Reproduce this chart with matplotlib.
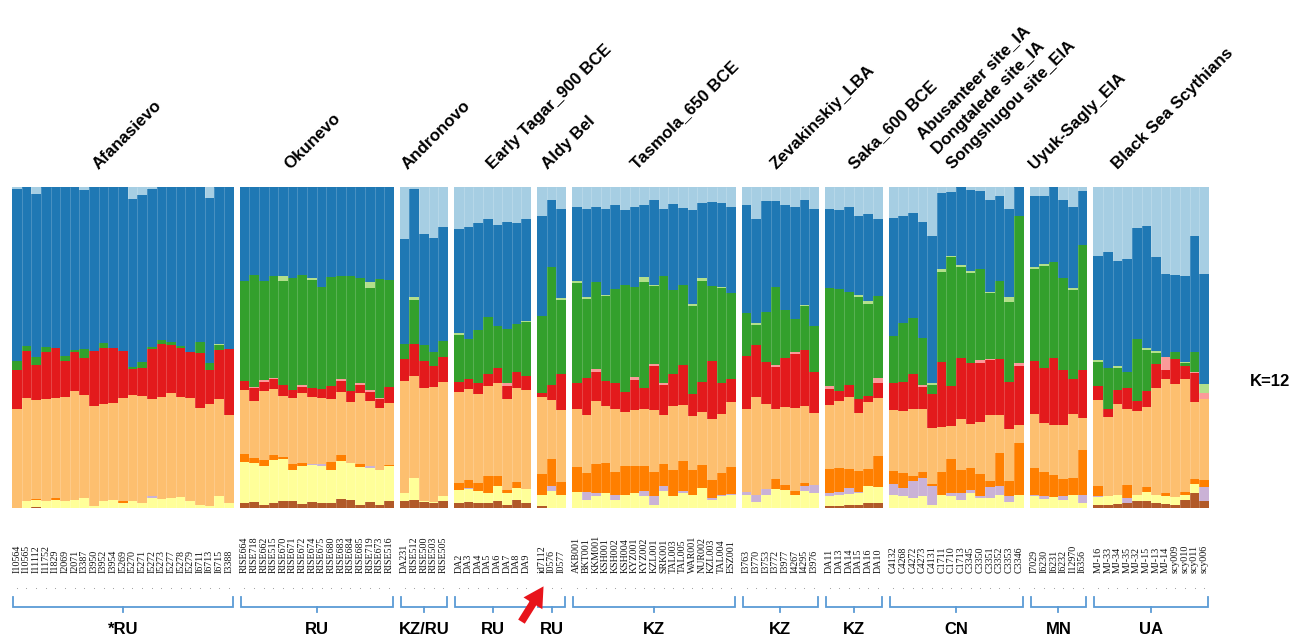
import matplotlib
matplotlib.use("Agg")
import matplotlib.pyplot as plt
import numpy as np
from matplotlib import transforms

# ---------------- data ----------------
groups = ["Afanasievo", "Okunevo", "Andronovo", "Early Tagar_900 BCE", "Aldy Bel",
          "Tasmola_650 BCE", "Zevakinskiy_LBA", "Saka_600 BCE",
          "Abusanteer site_IA\nDongtalede site_IA\nSongshugou site_EIA",
          "Uyuk-Sagly_EIA", "Black Sea Scythians"]
countries = ["*RU", "RU", "KZ/RU", "RU", "RU", "KZ", "KZ", "KZ", "CN", "MN", "UA"]

samples_afanasievo = ["I10564", "I10565", "I11112", "I11752", "I1829", "I2069", "I2071", "I3387",
                      "I3950", "I3952", "I3954", "I5269", "I5270", "I5271", "I5272", "I5273",
                      "I5277", "I5278", "I5279", "I6711", "I6713", "I6715", "I3388"]
samples_okunevo = ["RISE664", "RISE718", "RISE662", "RISE515", "RISE670", "RISE671", "RISE672",
                   "RISE674", "RISE675", "RISE680", "RISE683", "RISE684", "RISE685", "RISE719",
                   "RISE673", "RISE516"]
samples_andronovo = ["DA231", "RISE512", "RISE500", "RISE503", "RISE505"]
samples_early_tagar = ["DA2", "DA3", "DA4", "DA5", "DA6", "DA7", "DA8", "DA9"]
samples_aldy_bel = ["id7112", "I0576", "I0577"]
samples_tasmola = ["AKB001", "BKT001", "KKM001", "KSH001", "KSH002", "KSH004", "KYZ001", "KYZ002",
                   "KZL001", "SRK001", "TAL003", "TAL005", "WAR001", "NUR002", "KZL003", "TAL004",
                   "ESZ001"]
samples_zevakinskiy = ["I3763", "I3770", "I3753", "I3772", "I3977", "I4267", "I4295", "I3976"]
samples_saka = ["DA11", "DA13", "DA14", "DA15", "DA16", "DA10"]
samples_cn = ["C4132", "C4268", "C4272", "C4273", "C4131", "C1711", "C1710", "C1713", "C3345",
              "C3350", "C3351", "C3352", "C3353", "C3346"]
samples_uyuk = ["I7029", "I6230", "I6231", "I6232", "I12970", "I6356"]
samples_blacksea = ["MJ-16", "MJ-33", "MJ-34", "MJ-35", "MJ-32", "MJ-15", "MJ-13", "MJ-14",
                    "scy009", "scy010", "scy011", "scy006"]

group_samples = [samples_afanasievo, samples_okunevo, samples_andronovo, samples_early_tagar,
                 samples_aldy_bel, samples_tasmola, samples_zevakinskiy, samples_saka,
                 samples_cn, samples_uyuk, samples_blacksea]

# ancestry proportions (%), one value per sample, groups in order above
light_blue = [
    0.5, 0, 2.1, 0, 0, 0, 0, 1, 0, 0, 0, 0, 3.6, 2.6, 0.5, 0, 0, 0, 0, 0, 3.3, 0, 0,
    0, 0, 0, 0, 0, 0, 0, 0, 0, 0, 0, 0, 0, 0, 0, 0,
    16.1, 0.5, 14.6, 15.9, 12.5,
    13, 12.5, 11.3, 10.1, 11.7, 10.9, 11.3, 10.1,
    9.1, 4.2, 7,
    6.3, 7, 6.3, 6.8, 5.7, 7.3, 6.3, 5.7, 4.2, 6.8, 5.2, 6.6, 7.3, 4.9, 4.7, 4.9, 6.3,
    5.7, 9.9, 4.5, 4.5, 5.7, 6.3, 4.2, 7,
    7, 7.3, 6.3, 9.1, 8.3, 9.9,
    9.7, 9.1, 8, 10.9, 15.3, 1.8, 1.6, 0, 1, 1.4, 4.2, 2.8, 7, 0,
    2.8, 2.8, 0, 4.2, 6.3, 1.4,
    21.4, 20.1, 22.9, 22.4, 12.8, 12.2, 21.9, 27.1, 27.3, 27.6, 15.3, 27.1]
blue = [
    53.6, 49.5, 51, 50, 50, 52.6, 50.7, 49.5, 51.4, 48.6, 50.3, 51, 52.4, 52.1, 49.2, 47.7, 48.1,
    49.5, 51.4, 48.2, 51.6, 48.8, 50.5,
    29.2, 27.4, 29.5, 27.8, 27.6, 28.4, 27.6, 28.4, 31.3, 28.1, 27.6, 27.8, 28.6, 29.7, 28.6, 28.9,
    32.8, 33.9, 34.7, 35.6, 35.6,
    32.5, 34.9, 33.2, 30.3, 31.8, 33.3, 31.5, 31.6,
    31, 20.8, 27.7,
    22.9, 27.4, 23.4, 26.9, 26, 23.2, 25, 22.4, 26.4, 20.8, 26.8, 24, 29.2, 23.5, 26, 26.1, 26.6,
    33.5, 32.5, 34.6, 26.5, 32.6, 34.9, 32.6, 36.5,
    24.3, 24.5, 26.6, 24.6, 27.1, 24,
    36.7, 33.3, 32.9, 36.3, 45.8, 23.8, 19.8, 24.5, 25.3, 24.2, 28.6, 26.4, 27.4, 9.1,
    22.2, 21.1, 23.4, 24, 25.3, 16.7,
    32.5, 36.1, 32.8, 35.2, 34.6, 38.1, 29.2, 26, 24.1, 26.9, 36, 34.4]
light_green = [
    0, 0, 0, 0, 0, 0, 0, 0, 0, 0, 0, 0, 0, 0, 0, 0, 0, 0, 0, 0, 0, 0.4, 0,
    0, 0, 0, 0, 1.6, 0, 0, 0.4, 0, 0, 0, 0, 0, 1.9, 0, 0,
    0, 0.7, 0, 0, 0,
    0.5, 0, 0, 0, 0, 0, 0, 0.3,
    0, 0, 0.4,
    0.7, 0.5, 0, 0.4, 0, 0, 0, 1.4, 0.4, 0, 0, 0, 0.8, 1, 0, 0.5, 0,
    0, 0.6, 0, 0, 0, 0, 0.5, 0,
    0, 0, 0, 0.7, 1, 0,
    0, 0, 0, 0, 0.5, 0.8, 0.4, 0.4, 0.7, 0, 0.4, 0, 1.4, 0,
    0.5, 0.7, 0, 0.3, 0.5, 0,
    0.6, 0, 0.8, 0, 0, 0.6, 0.5, 0, 0, 0.4, 0, 2.6]
green = [
    2.8, 1.6, 2.4, 1.3, 0, 1.6, 0.8, 2.8, 0, 1.7, 0, 0, 0.5, 1.6, 0.8, 1.3, 1.1, 0.8, 0, 3.5, 2.1,
    1.6, 0,
    31.3, 35.1, 30.7, 31.6, 32.6, 34.8, 34.2, 33.6, 31.6, 34.1, 32.3, 35.7, 32.8, 31.7, 37, 33.3,
    4.7, 13.9, 4.9, 4.2, 5,
    14.9, 12.5, 16.7, 17.9, 12.8, 16.7, 14.9, 16.9,
    24, 36.8, 23.2,
    31.3, 24.5, 27.3, 26.4, 29.4, 33.5, 28.1, 33, 24.3, 33.5, 26.4, 25, 27.6, 31.3, 23.4, 29.6, 26.9,
    13.3, 6.1, 15.4, 24.6, 15.1, 10.4, 13.5, 14.2,
    30.7, 31.8, 29, 31.6, 28.6, 25.8,
    14.6, 18.5, 17.4, 14.6, 2.8, 28.1, 40.4, 28.4, 27.9, 28.3, 20.4, 24.5, 25.2, 45.6,
    28.6, 31.6, 29.9, 28.5, 27.8, 39,
    7.5, 13, 6.7, 5.2, 19.3, 12.8, 3.6, 0, 2.1, 1, 6.3, 0]
pink = [
    0, 0, 0, 0, 0, 0, 0, 0, 0, 0, 0, 0, 0, 0, 0, 0, 0, 0, 0, 0, 0, 0, 0,
    0, 0.3, 0.8, 0.5, 0, 0, 0.5, 0, 0, 0, 0.5, 0, 0.7, 0.6, 0.5, 0,
    0, 0, 0, 0, 0,
    0, 0, 0, 0, 0, 1, 0, 0,
    0, 0, 0,
    0, 0, 0.7, 0, 0, 0, 0.8, 0, 0.5, 0.6, 0, 0, 0, 0, 0, 0, 0,
    0, 0, 0, 0.5, 0, 0.4, 0, 0,
    0.8, 0, 0, 0, 0, 1.3,
    0, 0, 0, 0.7, 0, 0, 0, 0, 0, 1, 0.4, 0, 0, 1,
    0, 0, 0, 0, 0, 0,
    0, 0, 0, 0, 0, 0, 0, 3.9, 0, 0, 0.4, 1.9]
red = [
    12.1, 14.6, 11.1, 14.9, 15.6, 11.1, 12.1, 11.6, 17.2, 17.2, 16.9, 14.6, 8.3, 8.9, 15.6, 16.4,
    14.8, 15, 14.3, 17.2, 10.7, 15.2, 20.5,
    2.8, 3.9, 2.8, 3.1, 3.3, 2.4, 1.9, 3.1, 2.8, 3.8, 3.6, 3.4, 2.6, 2.8, 2.7, 5,
    6.8, 9.9, 8.3, 6.8, 7.6,
    3.1, 3.1, 3.4, 3.6, 4.7, 4, 4.9, 4.4,
    1.3, 4.4, 11.1,
    8.1, 11.5, 9.2, 7.8, 8.1, 6.3, 9.4, 6.8, 13.8, 9.4, 9.9, 12.5, 6.8, 9.6, 18.2, 9.7, 7.3,
    16.5, 16.1, 13.2, 13, 15, 17, 17.7, 12.9,
    4.9, 3.1, 3.9, 4.4, 1.9, 4.7,
    8.5, 8.9, 10.7, 6.9, 10.7, 20.2, 12.3, 19.1, 19, 18.5, 17, 17.5, 14.4, 18.5,
    16.7, 17.2, 20.9, 17, 10.9, 14.9,
    4.4, 2.3, 4.5, 6.5, 3.1, 4.9, 7.3, 2.7, 7.8, 4, 9, 0]
peach = [
    30.9, 32.3, 30.7, 31.8, 31.3, 32.6, 34, 32, 31.5, 30.2, 30.2, 32.1, 33, 33.3, 30.2, 31.9, 32.8,
    31.3, 32.3, 30, 31.8, 30.4, 27.4,
    20.1, 17.7, 21.4, 20.6, 19.1, 20.8, 22.1, 20.8, 20.8, 19.8, 19.6, 19.2, 22.1, 20.3, 19.2, 19.3,
    34.9, 31.8, 35.2, 35.7, 35.6,
    28.3, 28.3, 27.6, 28.1, 29, 28.3, 29.5, 30.8,
    24, 18.5, 22.5,
    17.9, 18.2, 19.8, 17.7, 19.5, 16.7, 17.5, 17.5, 19.3, 15.1, 19.8, 17.4, 16.7, 16.5, 18.8, 18.2,
    20.2,
    26, 30.5, 26.6, 21.9, 24.3, 26, 24, 22.2,
    20.1, 20.8, 22.4, 18.2, 20.8, 18.2,
    19.1, 19.3, 20.8, 19.8, 17.4, 14.2, 10.4, 15.8, 13.9, 16, 20.8, 11.9, 16.4, 5.4,
    16.7, 15.4, 15.3, 16.9, 20, 10.1,
    26.9, 24.6, 28.1, 23.8, 26, 25, 33.6, 35.6, 35.3, 35.2, 24.2, 25.4]
orange = [
    0, 0, 0.3, 0, 0.5, 0, 0, 0, 0, 0, 0, 0.7, 0, 0, 0, 0, 0, 0, 0, 0, 0, 0, 0,
    2.4, 1.6, 2.1, 1.3, 0.5, 1.8, 0.8, 0, 0, 2.3, 1.8, 0, 0.8, 0, 0, 0.5,
    0, 0, 0, 0, 0,
    2.1, 2.6, 2.6, 5.2, 3.1, 1, 1.8, 0,
    6.6, 8.3, 3.9,
    7.9, 6, 8.9, 9.4, 7.1, 8.9, 8.5, 8, 7.6, 7, 8.3, 9.4, 7.8, 7, 5.7, 6.8, 8.3,
    0, 0, 0, 3.1, 1.8, 1, 1, 0,
    7.5, 7.3, 6, 6.3, 5.4, 9.6,
    3.9, 4.7, 1.8, 1.8, 0.6, 7, 10.6, 7.3, 6.8, 7.1, 1.6, 10.2, 4.5, 16.1,
    8.3, 7.5, 7, 5.5, 5.3, 13.9,
    2.9, 0, 0, 3.9, 0, 1.7, 0, 1, 0, 1, 1.3, 2.1]
lavender = [
    0, 0, 0, 0, 0, 0, 0, 0, 0, 0, 0, 0, 0, 0, 0.5, 0, 0, 0, 0, 0, 0, 0, 0,
    0, 0, 0, 0, 0, 0, 0, 0.3, 0.5, 0, 0, 0, 0, 0.5, 0, 0,
    0, 0, 0, 0, 0,
    0, 0.3, 0, 0, 0, 0, 0, 0,
    0, 1.8, 0,
    0, 2.3, 0.8, 0, 1.8, 0, 0, 1.6, 2.8, 1.6, 0, 0.5, 0, 0, 0.7, 0.5, 0.6,
    1, 2.4, 1.6, 0, 0, 0, 1.6, 2.6,
    0.8, 1, 1.8, 0.5, 0, 0,
    3.4, 2.6, 5.2, 5.7, 5.9, 0, 0.8, 2.3, 1, 0.5, 3.6, 2.6, 2.1, 0,
    0.5, 0.8, 0, 1, 0, 2.6,
    0.4, 0, 0, 1.6, 0, 0, 0, 0, 0, 0, 0, 4.5]
yellow = [
    0, 2.1, 2.3, 2.1, 2.6, 2.1, 2.4, 3.1, 0.5, 2.3, 2.6, 1.6, 2.1, 1.6, 3.1, 2.8, 3.1, 3.4, 2.1, 1,
    0.5, 3.6, 1.6,
    12.7, 12.3, 12, 13.5, 13.2, 9.7, 11.7, 11.5, 11.5, 10.4, 11.8, 11.3, 12, 10.7, 10.9, 10.9,
    2.6, 6.8, 0.5, 0.3, 1.6,
    4, 4, 3.6, 3.1, 4.9, 3.6, 3.9, 4.4,
    3.6, 5.2, 4.2,
    4.9, 2.6, 3.9, 4.7, 2.4, 4.2, 4.7, 3.6, 1, 5.2, 3.6, 4.7, 4.2, 6.3, 2.4, 3.6, 3.9,
    3.9, 1.8, 4.2, 5.9, 5.5, 4.2, 5.2, 4.7,
    3.3, 3.4, 3.4, 3.6, 5.2, 5,
    4.2, 3.6, 3.1, 3.6, 1, 4.2, 3.9, 2.4, 4.7, 3.1, 3.1, 4.2, 1.8, 4.2,
    3.6, 2.8, 3.4, 2.6, 3.9, 1.6,
    2.4, 2.8, 2.8, 0, 2.1, 2.8, 2.3, 2.3, 2.4, 1.3, 2.9, 0]
brown = [
    0, 0, 0.3, 0, 0, 0, 0, 0, 0, 0, 0, 0, 0, 0, 0, 0, 0, 0, 0, 0, 0, 0, 0,
    1.6, 1.8, 1, 1.6, 2.1, 2.1, 1.4, 1.8, 1.6, 1.6, 2.8, 2.6, 1, 1.8, 1, 2.1,
    2.1, 2.6, 1.8, 1.6, 2.1,
    1.6, 1.8, 1.6, 1.6, 2.1, 1, 2.4, 1.6,
    0.5, 0, 0,
    0, 0, 0, 0, 0, 0, 0, 0, 0, 0, 0, 0, 0, 0, 0, 0, 0,
    0, 0, 0, 0, 0, 0, 0, 0,
    0.5, 0.7, 1, 1, 1.6, 1.6,
    0, 0, 0, 0, 0, 0, 0, 0, 0, 0, 0, 0, 0, 0,
    0, 0, 0, 0, 0, 0,
    1, 1, 1.4, 1.6, 2.1, 2.1, 1.6, 1.4, 1, 2.6, 4.7, 2.1]

# ---------------- figure ----------------
W, H = 1308, 640
fig = plt.figure(figsize=(W / 100, H / 100), dpi=100)
fig.patch.set_facecolor("white")


def fy(ypix):
    return 1 - ypix / H


ax = fig.add_axes([12 / W, fy(508), 1197 / W, 321 / H])

components = [brown, yellow, lavender, orange, peach, red, pink, green, light_green, blue, light_blue]
colors = ["#b15928", "#ffff99", "#cab2d6", "#ff7f00", "#fdbf6f", "#e31a1c", "#fb9a99",
          "#33a02c", "#b2df8a", "#1f78b4", "#a6cee3"]

Q = np.array(components, dtype=float)
Q = Q / Q.sum(axis=0)

gap = 0.62
xs, starts, ends = [], [], []
pos = 0.0
for smp in group_samples:
    starts.append(pos)
    for _ in smp:
        xs.append(pos)
        pos += 1
    ends.append(pos)
    pos += gap
xs = np.array(xs)
total = ends[-1]

bottom = np.zeros(len(xs))
for vals, c in zip(Q, colors):
    ax.bar(xs, vals, width=1.0, bottom=bottom, align="edge", color=c, linewidth=0)
    bottom += vals

# faint separators between samples within a group
for s, e in zip(starts, ends):
    inner = np.arange(s + 1, e - 0.5)
    ax.vlines(inner, 0, 1, colors="white", alpha=0.22, linewidth=0.6)

ax.set_xlim(0, total)
ax.set_ylim(0, 1)
ax.axis("off")

trans = transforms.blended_transform_factory(ax.transData, fig.transFigure)

# sample labels
all_samples = [s for g in group_samples for s in g]
for x, lab in zip(xs, all_samples):
    ax.text(x + 0.5, fy(573), lab, transform=trans, rotation=90, ha="center", va="bottom",
            fontsize=7.2, family="Liberation Serif", color="#111111", clip_on=False)
ax.scatter(xs + 0.5, np.full(len(xs), fy(588)), s=0.6, color="#999999", transform=trans,
           clip_on=False, linewidths=0)

# brackets and country codes
for s, e, cc in zip(starts, ends, countries):
    x0, x1 = s + 0.1, e - 0.1
    xc = (s + e) / 2
    ax.plot([x0, x0, x1, x1], [fy(597), fy(607), fy(607), fy(597)], transform=trans,
            color="#5b9bd5", lw=1.3, clip_on=False, solid_joinstyle="miter")
    ax.plot([xc, xc], [fy(607), fy(612)], transform=trans, color="#5b9bd5", lw=1.3,
            clip_on=False)
    ax.text(xc, fy(629), cc, transform=trans, ha="center", va="center", fontsize=12,
            fontweight="bold", family="Liberation Sans")

# group labels (rotated)
label_x = [99, 290, 408, 493, 548, 637, 776, 855, 953, 1035, 1118]
for name, lx in zip(groups, label_x):
    lines = name.split("\n")
    for k, line in enumerate(reversed(lines)):
        fig.text((lx - 15 * k) / W, fy(170 - 15 * k), line, rotation=45, rotation_mode="anchor",
                 ha="left", va="baseline", fontsize=12.2, fontweight="bold",
                 family="Liberation Sans")

fig.text(1270 / W, fy(382), "K=12", ha="center", va="center", fontsize=12,
         fontweight="bold", family="Liberation Sans")

# red arrow pointing at id7112
ax.annotate("", xy=(545, H - 584), xycoords="figure pixels", xytext=(520, H - 624),
            textcoords="figure pixels",
            arrowprops=dict(arrowstyle="simple,head_length=0.9,head_width=1.0,tail_width=0.35",
                            color="#e8141b", mutation_scale=16, lw=0))

fig.savefig("out.png", dpi=100, facecolor="white")
